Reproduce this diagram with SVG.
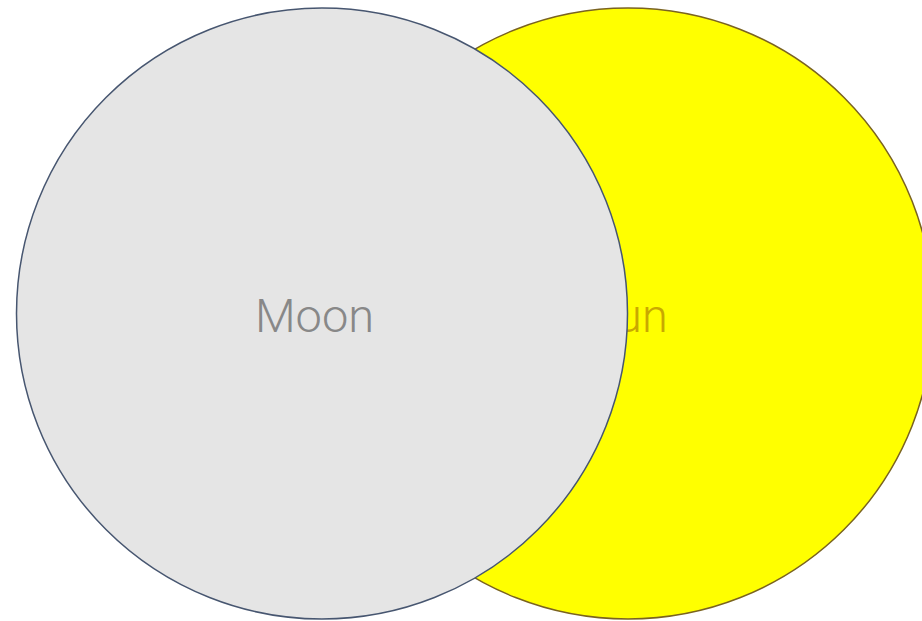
<svg xmlns="http://www.w3.org/2000/svg" width="922" height="621" viewBox="0 0 922 621">
<style>
.lbl{font-family:Roboto,"Liberation Sans",sans-serif;font-weight:300;font-size:47px;text-anchor:middle}
</style>
<rect width="922" height="621" fill="#ffffff"/>
<g id="sun">
<circle cx="628" cy="313.5" r="305.5" fill="#ffff00" stroke="#7a6320" stroke-width="1.5"/>
<text class="lbl" x="628" y="332" fill="#c9a800">Sun</text>
</g>
<g id="moon">
<circle cx="322" cy="313.5" r="305.5" fill="#e5e5e5" stroke="#475670" stroke-width="1.5"/>
<text class="lbl" x="314.5" y="332" fill="#888888">Moon</text>
</g>
<g id="connectors"/>
</svg>
